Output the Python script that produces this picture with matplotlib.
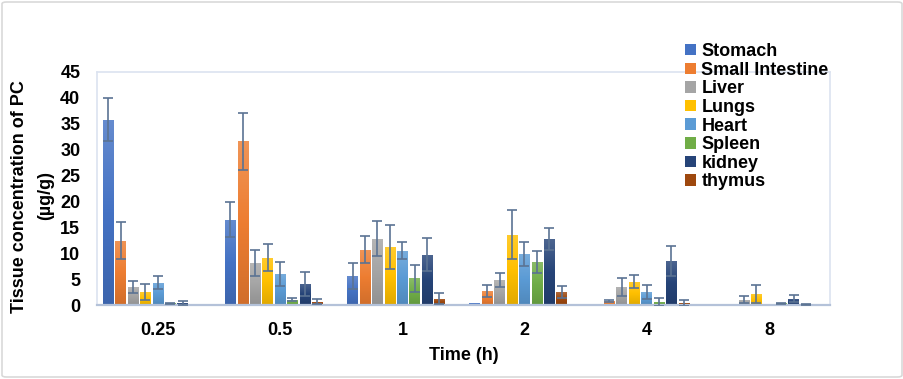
import numpy as np
import matplotlib
matplotlib.use("Agg")
import matplotlib.pyplot as plt
from matplotlib.patches import FancyBboxPatch
from matplotlib.colors import LinearSegmentedColormap, to_rgb

plt.rcParams['font.family'] = ['Liberation Sans', 'DejaVu Sans']

times = ["0.25", "0.5", "1", "2", "4", "8"]
organs = ["Stomach", "Small Intestine", "Liver", "Lungs", "Heart", "Spleen", "kidney", "thymus"]

stomach   = [35.8, 16.5, 5.6, 0.35, 0.0, 0.0]
small_int = [12.4, 31.6, 10.7, 2.7, 0.7, 0.0]
liver     = [3.5, 8.1, 12.8, 4.8, 3.5, 1.0]
lungs     = [2.5, 9.1, 11.2, 13.6, 4.5, 2.1]
heart     = [4.3, 6.0, 10.5, 9.9, 2.5, 0.0]
spleen    = [0.35, 1.0, 5.2, 8.3, 0.6, 0.3]
kidney    = [0.4, 4.1, 9.7, 12.8, 8.5, 1.2]
thymus    = [0.0, 0.6, 1.2, 2.5, 0.4, 0.15]

stomach_err   = [4.2, 3.4, 2.5, 0.0, 0.0, 0.0]
small_int_err = [3.6, 5.5, 2.6, 1.1, 0.2, 0.0]
liver_err     = [1.1, 2.5, 3.4, 1.3, 1.7, 0.7]
lungs_err     = [1.5, 2.6, 4.2, 4.8, 1.3, 1.7]
heart_err     = [1.3, 2.3, 1.7, 2.3, 1.3, 0.0]
spleen_err    = [0.1, 0.3, 2.6, 2.1, 0.7, 0.1]
kidney_err    = [0.4, 2.3, 3.2, 2.1, 2.9, 0.7]
thymus_err    = [0.0, 0.5, 1.1, 1.1, 0.5, 0.1]

values = [stomach, small_int, liver, lungs, heart, spleen, kidney, thymus]
errors = [stomach_err, small_int_err, liver_err, lungs_err, heart_err, spleen_err, kidney_err, thymus_err]
colors = ["#4472C4", "#ED7D31", "#A5A5A5", "#FFC000", "#5B9BD5", "#70AD47", "#264478", "#9E480E"]

W, H = 904, 379
FS = 13
fig = plt.figure(figsize=(W / 100, H / 100), dpi=100)
fig.patches.append(FancyBboxPatch((2 / W, 2 / H), 1 - 4 / W, 1 - 4 / H,
                                  boxstyle="round,pad=0,rounding_size=0.005",
                                  transform=fig.transFigure, facecolor="white",
                                  edgecolor="#D9D9D9", lw=1.2, zorder=-10))

ax = fig.add_axes([97 / W, (H - 305) / H, 733 / W, 233 / H])
ax.set_facecolor("none")

x = np.arange(len(times))
slot = 0.1016
barw = 0.086
start = -0.5 + 0.041

def lighten(c, f):
    r = np.array(to_rgb(c))
    return tuple(r + (1 - r) * f)

def darken(c, f):
    r = np.array(to_rgb(c))
    return tuple(r * (1 - f))

for i, (vals, errs, col) in enumerate(zip(values, errors, colors)):
    pos = x + start + slot * (i + 0.5)
    bars = ax.bar(pos, vals, width=barw, color=col, label=organs[i], zorder=2)
    cmap = LinearSegmentedColormap.from_list("g%d" % i, [darken(col, 0.12), col, lighten(col, 0.18)])
    grad = np.linspace(0, 1, 64).reshape(-1, 1)
    for b in bars:
        h = b.get_height()
        if h <= 0:
            continue
        bx, by, bw = b.get_x(), b.get_y(), b.get_width()
        im = ax.imshow(grad, cmap=cmap, origin="lower", aspect="auto",
                       extent=(bx, bx + bw, by, by + h), zorder=2.1,
                       vmin=0, vmax=1)
        im.set_clip_path(b)
    e = np.array(errs)
    v = np.array(vals)
    mask = e > 0
    ax.errorbar(pos[mask], v[mask], yerr=e[mask], fmt="none", ecolor="#5B7393",
                elinewidth=1.2, capsize=3.8, capthick=1.2, zorder=3)

ax.set_xlim(-0.5, len(times) - 0.5)
ax.set_ylim(0, 45)
ax.set_yticks(np.arange(0, 46, 5))
ax.set_yticklabels([str(v) for v in range(0, 46, 5)], fontsize=FS, fontweight="bold")
ax.set_xticks(x)
ax.set_xticklabels(times, fontsize=FS, fontweight="bold")
ax.tick_params(axis="y", length=0, pad=12)
ax.tick_params(axis="x", length=0, pad=12)

for s in ["top", "right", "left"]:
    ax.spines[s].set_color("#DCE3F0")
    ax.spines[s].set_linewidth(1.2)
ax.spines["bottom"].set_color("#B4C2D9")
ax.spines["bottom"].set_linewidth(1.6)

ax.set_xlabel("Time (h)", fontsize=FS, fontweight="bold", labelpad=6)
fig.text(20 / W, 1 - 197 / H, "Tissue concentration of PC", rotation=90,
         ha="center", va="center", fontsize=FS, fontweight="bold")
fig.text(46 / W, 1 - 195 / H, "(µg/g)", rotation=90,
         ha="center", va="center", fontsize=FS, fontweight="bold")

leg = fig.legend(loc="upper left", bbox_to_anchor=(676 / W, 1 - 34 / H),
                 frameon=False, prop={"size": FS, "weight": "bold"},
                 handlelength=0.6, handleheight=0.6, handletextpad=0.3,
                 labelspacing=0.09, borderpad=0)

fig.savefig("out.png", dpi=100)
